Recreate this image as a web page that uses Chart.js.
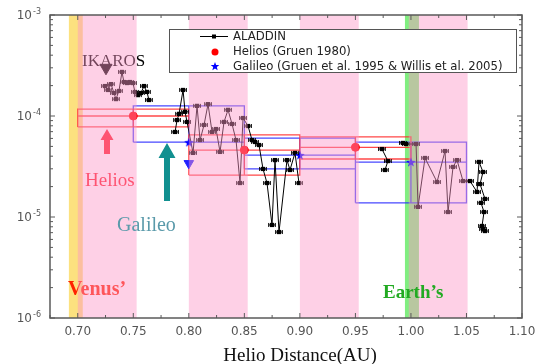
<!DOCTYPE html>
<html>
<head>
<meta charset="utf-8">
<script src="https://cdn.jsdelivr.net/npm/chart.js@4.4.1/dist/chart.umd.min.js"></script>
<style>
html, body { margin: 0; padding: 0; background: #fff; }
#wrap { width: 539px; height: 364px; }
</style>
</head>
<body>
<div id="wrap"><canvas id="chart" width="539" height="364"></canvas></div>
<script>
// ALADDIN flux vs heliocentric distance, null = gap in the trace
var aladdinX = [
    0.7245, 0.7272, 0.7299, 0.7326, 0.7344, 0.7371, 0.7398, 0.7416, 0.7443, 0.7470, 0.7497, 0.7515, 0.7542, 0.7569, 0.7596, 0.7623, 0.7641,
    null,
    0.7876, 0.7894, 0.7912, 0.7948, 0.7966, 0.7984,
    0.8038, 0.8074, 0.8101, 0.8137, 0.8173, 0.8209, 0.8245, 0.8281, 0.8317, 0.8353, 0.8389, 0.8425, 0.8461, 0.8488, 0.8533,
    0.8569, 0.8596, 0.8632, 0.8668, 0.8704, 0.8749, 0.8776, 0.8812, 0.8884, 0.8911, 0.8956, 0.8992,
    null,
    0.9739, 0.9793, 0.9766,
    null,
    0.9928, 0.9955, 1.0046, 1.0064, 1.0127, 1.0235, 1.0307, 1.0334, 1.0379, 1.0415, 1.0469, 1.0532, 1.0595,
    1.0613, 1.0649, 1.0622, 1.0667, 1.0631, 1.0658, 1.0640, 1.0667, 1.0649
];
var aladdinY = [
    1.98e-4, 1.81e-4, 2.07e-4, 1.69e-4, 1.47e-4, 1.77e-4, 2.73e-4, 2.17e-4, 2.12e-4, 2.17e-4, 2.12e-4, 1.73e-4, 1.61e-4, 1.69e-4, 1.98e-4, 1.73e-4, 1.44e-4,
    null,
    6.95e-5, 9.12e-5, 1.05e-4, 1.81e-4, 1.10e-4, 8.73e-5,
    4.31e-5, 1.26e-4, 5.78e-5, 8.15e-5, 1.31e-4, 6.95e-5, 7.43e-5, 4.41e-5, 8.73e-5, 1.15e-4, 8.34e-5, 5.78e-5, 2.17e-5, 9.55e-5, 7.96e-5,
    5.78e-5, 5.53e-5, 5.16e-5, 2.99e-5, 2.17e-5, 8.34e-6, 3.66e-5, 7.10e-6, 3.66e-5, 2.92e-5, 4.31e-5, 2.17e-5,
    null,
    4.71e-5, 3.58e-5, 2.92e-5,
    null,
    5.41e-5, 5.28e-5, 5.28e-5, 1.26e-5, 3.84e-5, 2.22e-5, 4.50e-5, 1.12e-5, 3.13e-5, 3.66e-5, 2.27e-5, 2.27e-5, 1.77e-5,
    3.51e-5, 2.79e-5, 2.12e-5, 1.51e-5, 1.38e-5, 1.12e-5, 8.15e-6, 7.26e-6, 7.60e-6
];
var aladdinXErr = 0.003;

// Helios (Gruen 1980)
var heliosX = [0.75, 0.85, 0.95];
var heliosY = [1.0e-4, 4.6e-5, 4.9e-5];
var heliosXLo = [0.70, 0.80, 0.90];
var heliosXHi = [0.80, 0.90, 1.00];
var heliosYLo = [7.8e-5, 2.6e-5, 3.75e-5];
var heliosYHi = [1.17e-4, 6.5e-5, 6.2e-5];

// Galileo (Gruen et al. 1995 & Willis et al. 2005)
var galileoX = [0.80, 0.90, 1.00];
var galileoY = [5.5e-5, 4.1e-5, 3.5e-5];
var galileoXLo = [0.75, 0.85, 0.95];
var galileoXHi = [0.85, 0.95, 1.05];
var galileoYLo = [5.5e-5, 3.0e-5, 1.38e-5];
var galileoYHi = [1.26e-4, 6.05e-5, 5.5e-5];
var galileoLimitX = [0.80];
var galileoLimitY = [3.4e-5];

var ikarosX = [0.7254];
var ikarosY = [3.0e-4];

// shaded orbit ranges (AU)
var venusBand = [0.692, 0.7045];
var earthBand = [0.9946, 1.0072];
var pinkBands = [[0.700, 0.753], [0.800, 0.853], [0.900, 0.953], [0.998, 1.051]];

var xTickValues = [0.70, 0.75, 0.80, 0.85, 0.90, 0.95, 1.00, 1.05, 1.10];
var xTickLabels = ['0.70', '0.75', '0.80', '0.85', '0.90', '0.95', '1.00', '1.05', '1.10'];
var yTickValues = [1e-3, 1e-4, 1e-5, 1e-6];
var yTickExponents = ['-3', '-4', '-5', '-6'];

function points(xs, ys) {
    return xs.map(function (x, i) { return { x: x, y: ys[i] }; });
}

// outline + cross lines for each measurement box
function boxes(xs, ys, xLo, xHi, yLo, yHi) {
    var out = [];
    var gap = { x: null, y: null };
    for (var i = 0; i < xs.length; i++) {
        out.push({ x: xLo[i], y: yLo[i] }, { x: xHi[i], y: yLo[i] }, { x: xHi[i], y: yHi[i] },
                 { x: xLo[i], y: yHi[i] }, { x: xLo[i], y: yLo[i] }, gap);
        out.push({ x: xLo[i], y: ys[i] }, { x: xHi[i], y: ys[i] }, gap);
        out.push({ x: xs[i], y: yLo[i] }, { x: xs[i], y: yHi[i] }, gap);
    }
    return out;
}

function drawStar(g, cx, cy, r, color) {
    g.beginPath();
    for (var i = 0; i < 10; i++) {
        var rr = i % 2 ? r * 0.42 : r;
        var a = -Math.PI / 2 + i * Math.PI / 5;
        g.lineTo(cx + rr * Math.cos(a), cy + rr * Math.sin(a));
    }
    g.closePath();
    g.fillStyle = color;
    g.fill();
}

function starImage(size, color) {
    var c = document.createElement('canvas');
    c.width = size; c.height = size;
    drawStar(c.getContext('2d'), size / 2, size / 2 + 0.5, size / 2, color);
    return c;
}

function arrow(ctx, x, tipY, headY, baseY, headHalf, shaftHalf, color) {
    ctx.beginPath();
    ctx.moveTo(x, tipY);
    ctx.lineTo(x + headHalf, headY);
    ctx.lineTo(x + shaftHalf, headY);
    ctx.lineTo(x + shaftHalf, baseY);
    ctx.lineTo(x - shaftHalf, baseY);
    ctx.lineTo(x - shaftHalf, headY);
    ctx.lineTo(x - headHalf, headY);
    ctx.closePath();
    ctx.fillStyle = color;
    ctx.fill();
}

function band(ctx, chart, range, color) {
    var a = chart.chartArea, xs = chart.scales.x;
    var x0 = xs.getPixelForValue(range[0]), x1 = xs.getPixelForValue(range[1]);
    ctx.fillStyle = color;
    ctx.fillRect(x0, a.top, x1 - x0, a.bottom - a.top);
}

var decor = {
    id: 'decor',
    beforeDatasetsDraw: function (chart) {
        var ctx = chart.ctx;
        ctx.save();
        band(ctx, chart, venusBand, '#fce17f');
        band(ctx, chart, earthBand, '#80ee80');
        ctx.restore();
    },
    afterDatasetsDraw: function (chart) {
        var ctx = chart.ctx, a = chart.chartArea;
        var xs = chart.scales.x, ys = chart.scales.y;
        ctx.save();

        // ALADDIN horizontal error bars
        ctx.strokeStyle = '#000';
        ctx.lineWidth = 1;
        ctx.beginPath();
        for (var i = 0; i < aladdinX.length; i++) {
            if (aladdinX[i] === null) continue;
            var l = xs.getPixelForValue(aladdinX[i] - aladdinXErr);
            var r = xs.getPixelForValue(aladdinX[i] + aladdinXErr);
            var yy = ys.getPixelForValue(aladdinY[i]);
            ctx.moveTo(l, yy); ctx.lineTo(r, yy);
            ctx.moveTo(l, yy - 2); ctx.lineTo(l, yy + 2);
            ctx.moveTo(r, yy - 2); ctx.lineTo(r, yy + 2);
        }
        ctx.stroke();

        // labels lying under the shading
        ctx.textBaseline = 'alphabetic';
        ctx.textAlign = 'left';
        ctx.fillStyle = '#000';
        ctx.font = '17px "Liberation Serif"';
        ctx.fillText('IKAROS', 82, 66);
        ctx.fillStyle = '#ff2200';
        ctx.font = 'bold 20px "Liberation Serif"';
        ctx.fillText('Venus\u2019', 68, 295);
        ctx.fillStyle = '#ff1e2d';
        ctx.font = '19px "Liberation Serif"';
        ctx.fillText('Helios', 85, 186);
        arrow(ctx, 107, 129, 140, 154, 6.5, 3, '#ff1e2d');

        // pink shading on top
        pinkBands.forEach(function (b) { band(ctx, chart, b, 'rgba(252,150,200,0.45)'); });

        ctx.fillStyle = '#5a9aaa';
        ctx.font = '20px "Liberation Serif"';
        ctx.fillText('Galileo', 117, 231);
        arrow(ctx, 167, 143, 158, 201, 8.5, 3, '#119090');
        ctx.fillStyle = '#22aa22';
        ctx.font = 'bold 19px "Liberation Serif"';
        ctx.fillText('Earth\u2019s', 383, 298);

        // frame and inward ticks
        ctx.strokeStyle = '#5a5a5a';
        ctx.lineWidth = 1.5;
        ctx.strokeRect(a.left, a.top, a.right - a.left, a.bottom - a.top);
        ctx.lineWidth = 1;
        ctx.beginPath();
        for (var t = 0; t <= 17; t++) {
            var xv = 0.675 + t * 0.025;
            var xp = xs.getPixelForValue(xv);
            var len = t % 2 ? 5 : 3;
            ctx.moveTo(xp, a.bottom); ctx.lineTo(xp, a.bottom - len);
            ctx.moveTo(xp, a.top); ctx.lineTo(xp, a.top + len);
        }
        for (var d = -6; d <= -3; d++) {
            for (var k = 1; k <= (d === -3 ? 1 : 9); k++) {
                var yp = ys.getPixelForValue(k * Math.pow(10, d));
                var yl = k === 1 ? 5 : 3;
                ctx.moveTo(a.left, yp); ctx.lineTo(a.left + yl, yp);
                ctx.moveTo(a.right, yp); ctx.lineTo(a.right - yl, yp);
            }
        }
        ctx.stroke();

        // tick labels
        ctx.fillStyle = '#555';
        ctx.font = '12px "DejaVu Sans"';
        ctx.textAlign = 'center';
        ctx.textBaseline = 'middle';
        xTickValues.forEach(function (v, i) {
            ctx.fillText(xTickLabels[i], xs.getPixelForValue(v), 332);
        });
        yTickValues.forEach(function (v, i) {
            var yp = ys.getPixelForValue(v);
            ctx.textAlign = 'right';
            ctx.font = '12px "DejaVu Sans"';
            ctx.fillText('10', 32, yp + 1);
            ctx.textAlign = 'left';
            ctx.font = '8px "DejaVu Sans"';
            ctx.fillText(yTickExponents[i], 33, yp - 3);
        });

        // axis title
        ctx.fillStyle = '#111';
        ctx.font = '19px "Liberation Serif"';
        ctx.textAlign = 'center';
        ctx.textBaseline = 'alphabetic';
        ctx.fillText('Helio Distance(AU)', 300, 361);

        // legend
        ctx.fillStyle = '#fff';
        ctx.fillRect(169.5, 29.5, 347, 43);
        ctx.strokeStyle = '#555';
        ctx.strokeRect(169.5, 29.5, 347, 43);
        ctx.strokeStyle = '#000';
        ctx.beginPath();
        ctx.moveTo(200, 36.5); ctx.lineTo(228, 36.5);
        ctx.stroke();
        ctx.fillStyle = '#000';
        ctx.fillRect(212, 34.5, 4, 4);
        ctx.fillStyle = '#ff0000';
        ctx.beginPath();
        ctx.arc(215, 52, 3.5, 0, Math.PI * 2);
        ctx.fill();
        drawStar(ctx, 215, 66.5, 4.5, '#0000ff');
        ctx.fillStyle = '#222';
        ctx.font = '11.7px "DejaVu Sans"';
        ctx.textAlign = 'left';
        ctx.textBaseline = 'middle';
        ctx.fillText('ALADDIN', 233, 37);
        ctx.fillText('Helios (Gruen 1980)', 233, 52);
        ctx.fillText('Galileo (Gruen et al. 1995 & Willis et al. 2005)', 233, 66.5);
        ctx.restore();
    }
};

var ctx = document.getElementById('chart');
new Chart(ctx, {
    type: 'scatter',
    data: {
        datasets: [{
            label: 'Helios',
            data: points(heliosX, heliosY),
            pointStyle: 'circle',
            pointRadius: 4,
            backgroundColor: '#ff0000',
            borderColor: '#ff0000'
        }, {
            label: 'Galileo',
            data: points(galileoX, galileoY),
            pointStyle: starImage(10, '#0000ff'),
            pointRadius: 5
        }, {
            label: 'Galileo limit',
            data: points(galileoLimitX, galileoLimitY),
            pointStyle: 'triangle',
            rotation: 180,
            pointRadius: 5.5,
            backgroundColor: '#2020ff',
            borderColor: '#2020ff'
        }, {
            label: 'IKAROS',
            data: points(ikarosX, ikarosY),
            pointStyle: 'triangle',
            rotation: 180,
            pointRadius: 7,
            backgroundColor: '#000',
            borderColor: '#000'
        }, {
            label: 'ALADDIN',
            data: points(aladdinX, aladdinY),
            showLine: true,
            borderColor: '#000',
            borderWidth: 1,
            backgroundColor: '#000',
            pointStyle: 'rect',
            pointRadius: 3,
            pointBorderWidth: 0
        }, {
            label: 'Helios range',
            data: boxes(heliosX, heliosY, heliosXLo, heliosXHi, heliosYLo, heliosYHi),
            showLine: true,
            borderColor: 'rgba(255,40,40,0.85)',
            borderWidth: 1.3,
            pointRadius: 0
        }, {
            label: 'Galileo range',
            data: boxes(galileoX, galileoY, galileoXLo, galileoXHi, galileoYLo, galileoYHi),
            showLine: true,
            borderColor: 'rgba(40,40,255,0.85)',
            borderWidth: 1.3,
            pointRadius: 0
        }]
    },
    options: {
        responsive: false,
        animation: false,
        layout: {
            padding: { left: 50, top: 15, right: 17, bottom: 46 }
        },
        plugins: {
            legend: { display: false },
            tooltip: { enabled: false }
        },
        scales: {
            x: { type: 'linear', min: 0.675, max: 1.10, display: false },
            y: { type: 'logarithmic', min: 1e-6, max: 1e-3, display: false }
        }
    },
    plugins: [decor]
});
</script>
</body>
</html>
